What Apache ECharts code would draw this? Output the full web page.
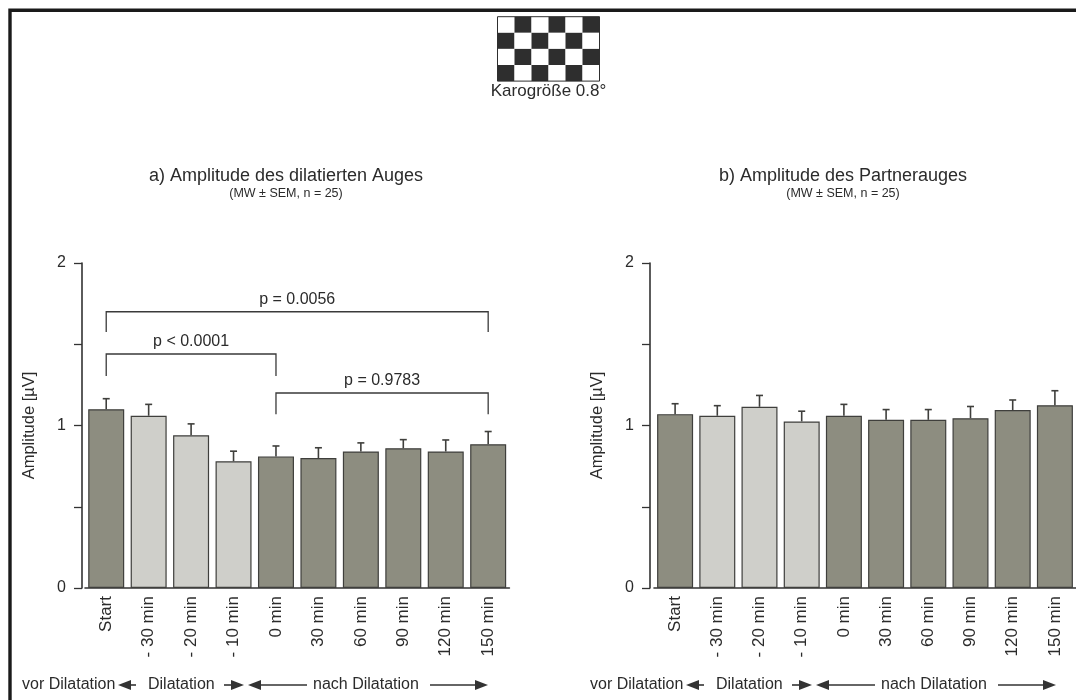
<!DOCTYPE html>
<html>
<head>
<meta charset="utf-8">
<script src="https://cdn.jsdelivr.net/npm/echarts@6/dist/echarts.min.js"></script>
<style>
  html, body { margin: 0; padding: 0; background: #ffffff; }
  #chart { width: 1076px; height: 700px; }
</style>
</head>
<body>
<div id="chart"></div>
<script>
// Measurement time points
const categories = ['Start', '- 30 min', '- 20 min', '- 10 min', '0 min', '30 min', '60 min', '90 min', '120 min', '150 min'];
// Phase of each time point: before, during, after dilatation
const phases = ['vor', 'dil', 'dil', 'dil', 'nach', 'nach', 'nach', 'nach', 'nach', 'nach'];

// a) dilated eye: mean amplitude and SEM [µV]
const dilatedMean = [1.10, 1.06, 0.94, 0.78, 0.81, 0.80, 0.84, 0.86, 0.84, 0.885];
const dilatedSem  = [0.065, 0.07, 0.07, 0.062, 0.064, 0.063, 0.053, 0.053, 0.071, 0.078];

// b) partner eye: mean amplitude and SEM [µV]
const partnerMean = [1.07, 1.06, 1.115, 1.025, 1.06, 1.035, 1.035, 1.045, 1.095, 1.125];
const partnerSem  = [0.064, 0.062, 0.07, 0.063, 0.07, 0.063, 0.063, 0.072, 0.062, 0.089];

// Labelled ticks of the amplitude axis
const yTickLabels = [0, 1, 2];

// Significance brackets: [from index, to index, bracket height, leg end]
const brackets = [
  [0, 9, 1.70, 1.575],
  [0, 4, 1.44, 1.305],
  [4, 9, 1.20, 1.07]
];
const bracketLabels = ['p = 0.0056', 'p < 0.0001', 'p = 0.9783'];

const FONT = '"Liberation Sans", Arial, Helvetica, sans-serif';
const INK = '#2b2b2b';
const DARK_BAR = '#8d8d80';
const LIGHT_BAR = '#cfcfca';
const BAR_EDGE = '#3f3f3c';

const chart = echarts.init(document.getElementById('chart'), null, { renderer: 'canvas' });

function barData(values) {
  return values.map((v, i) => ({
    value: v,
    itemStyle: { color: phases[i] === 'dil' ? LIGHT_BAR : DARK_BAR }
  }));
}

function errorData(mean, sem) {
  return mean.map((m, i) => [i, m, sem[i]]);
}

function renderError(params, api) {
  const x = api.value(0);
  const m = api.value(1);
  const s = api.value(2);
  const p0 = api.coord([x, m]);
  const p1 = api.coord([x, m + s]);
  const cap = 3.5;
  return {
    type: 'group',
    children: [
      { type: 'line', shape: { x1: p0[0], y1: p0[1], x2: p1[0], y2: p1[1] }, style: { stroke: BAR_EDGE, lineWidth: 1.6 } },
      { type: 'line', shape: { x1: p1[0] - cap, y1: p1[1], x2: p1[0] + cap, y2: p1[1] }, style: { stroke: BAR_EDGE, lineWidth: 1.6 } }
    ]
  };
}

function renderBracket(params, api) {
  const a = api.value(0), b = api.value(1), h = api.value(2), leg = api.value(3);
  const pA = api.coord([a, leg]);
  const pAt = api.coord([a, h]);
  const pB = api.coord([b, leg]);
  const pBt = api.coord([b, h]);
  return {
    type: 'group',
    children: [
      {
        type: 'polyline',
        shape: { points: [pA, pAt, pBt, pB] },
        style: { stroke: '#3a3a3a', lineWidth: 1.3, fill: null }
      },
      {
        type: 'text',
        style: {
          text: bracketLabels[params.dataIndex],
          x: (pAt[0] + pBt[0]) / 2,
          y: pAt[1] - 12,
          align: 'center',
          verticalAlign: 'middle',
          fontSize: 16,
          fontFamily: FONT,
          fill: INK
        }
      }
    ]
  };
}

function yAxisFor(gridIndex, offset) {
  return {
    type: 'value',
    gridIndex: gridIndex,
    min: 0,
    max: 2,
    interval: 0.5,
    offset: offset,
    name: 'Amplitude [µV]',
    nameLocation: 'middle',
    nameGap: 44,
    nameRotate: 90,
    nameTextStyle: { fontSize: 16.5, fontFamily: FONT, color: INK },
    axisLine: { show: true, lineStyle: { color: '#333', width: 1.6 } },
    axisTick: { show: true, length: 8, lineStyle: { color: '#333', width: 1.3 } },
    axisLabel: {
      fontSize: 16, fontFamily: FONT, color: INK, margin: 16,
      formatter: v => (yTickLabels.indexOf(v) >= 0 ? String(v) : '')
    },
    splitLine: { show: false }
  };
}

function xAxisFor(gridIndex) {
  return {
    type: 'category',
    gridIndex: gridIndex,
    data: categories,
    axisLine: { show: true, lineStyle: { color: '#333', width: 1.6 } },
    axisTick: { show: false },
    axisLabel: { rotate: 90, interval: 0, fontSize: 17, fontFamily: FONT, color: INK, margin: 8 }
  };
}

// Phase annotation under each panel, positioned from the panel's y-axis
function phaseRow(ox) {
  const y = 685;
  const stroke = '#333';
  const head = (tip, dir) => ({
    type: 'polygon',
    shape: { points: [[tip, y], [tip - dir * 13, y - 5], [tip - dir * 13, y + 5]] },
    style: { fill: stroke }
  });
  const shaft = (x1, x2) => ({
    type: 'line',
    shape: { x1: x1, y1: y, x2: x2, y2: y },
    style: { stroke: stroke, lineWidth: 1.6 }
  });
  const txt = (x, t) => ({
    type: 'text',
    style: { text: t, x: x, y: y, align: 'left', verticalAlign: 'middle', fontSize: 16, fontFamily: FONT, fill: INK }
  });
  return [
    txt(ox - 60, 'vor Dilatation'),
    head(ox + 36, -1), shaft(ox + 48, ox + 54),
    txt(ox + 66, 'Dilatation'),
    shaft(ox + 142, ox + 150), head(ox + 162, 1),
    head(ox + 166, -1), shaft(ox + 178, ox + 225),
    txt(ox + 231, 'nach Dilatation'),
    shaft(ox + 348, ox + 394), head(ox + 406, 1)
  ];
}

// Checkerboard stimulus pattern
function checkerboard() {
  const x0 = 497.5, y0 = 16.7, cw = 17, ch = 16.1, cols = 6, rows = 4;
  const cells = [];
  for (let r = 0; r < rows; r++) {
    for (let c = 0; c < cols; c++) {
      cells.push({
        type: 'rect',
        shape: { x: x0 + c * cw, y: y0 + r * ch, width: cw, height: ch },
        style: { fill: (r + c) % 2 === 0 ? '#ffffff' : '#2e2e2e' }
      });
    }
  }
  cells.push({
    type: 'rect',
    shape: { x: x0, y: y0, width: cols * cw, height: rows * ch },
    style: { fill: null, stroke: '#2e2e2e', lineWidth: 1 }
  });
  return cells;
}

function centerText(x, y, t, size) {
  return {
    type: 'text',
    style: { text: t, x: x, y: y, align: 'center', verticalAlign: 'middle', fontSize: size, fontFamily: FONT, fill: INK }
  };
}

const option = {
  backgroundColor: '#ffffff',
  animation: false,
  grid: [
    { left: 85, top: 263, width: 424.4, height: 325 },
    { left: 654, top: 263, width: 424.4, height: 325 }
  ],
  xAxis: [xAxisFor(0), xAxisFor(1)],
  yAxis: [yAxisFor(0, 3), yAxisFor(1, 4)],
  series: [
    {
      type: 'bar', xAxisIndex: 0, yAxisIndex: 0, barWidth: 36,
      itemStyle: { borderColor: BAR_EDGE, borderWidth: 1.2 },
      data: barData(dilatedMean)
    },
    {
      type: 'custom', xAxisIndex: 0, yAxisIndex: 0, z: 3,
      renderItem: renderError, data: errorData(dilatedMean, dilatedSem)
    },
    {
      type: 'custom', xAxisIndex: 0, yAxisIndex: 0, z: 3, clip: false,
      renderItem: renderBracket, data: brackets
    },
    {
      type: 'bar', xAxisIndex: 1, yAxisIndex: 1, barWidth: 36,
      itemStyle: { borderColor: BAR_EDGE, borderWidth: 1.2 },
      data: barData(partnerMean)
    },
    {
      type: 'custom', xAxisIndex: 1, yAxisIndex: 1, z: 3,
      renderItem: renderError, data: errorData(partnerMean, partnerSem)
    }
  ],
  graphic: [
    {
      type: 'polyline',
      shape: { points: [[10, 700], [10, 10.3], [1076, 10.3]] },
      style: { stroke: '#1a1a1a', lineWidth: 3.4, fill: null }
    },
    ...checkerboard(),
    centerText(548.5, 91.5, 'Karogröße 0.8°', 17),
    centerText(286, 176, 'a) Amplitude des dilatierten Auges', 18),
    centerText(286, 194, '(MW ± SEM, n = 25)', 12.5),
    centerText(843, 176, 'b) Amplitude des Partnerauges', 18),
    centerText(843, 194, '(MW ± SEM, n = 25)', 12.5),
    ...phaseRow(82),
    ...phaseRow(650)
  ]
};

chart.setOption(option);
</script>
</body>
</html>
